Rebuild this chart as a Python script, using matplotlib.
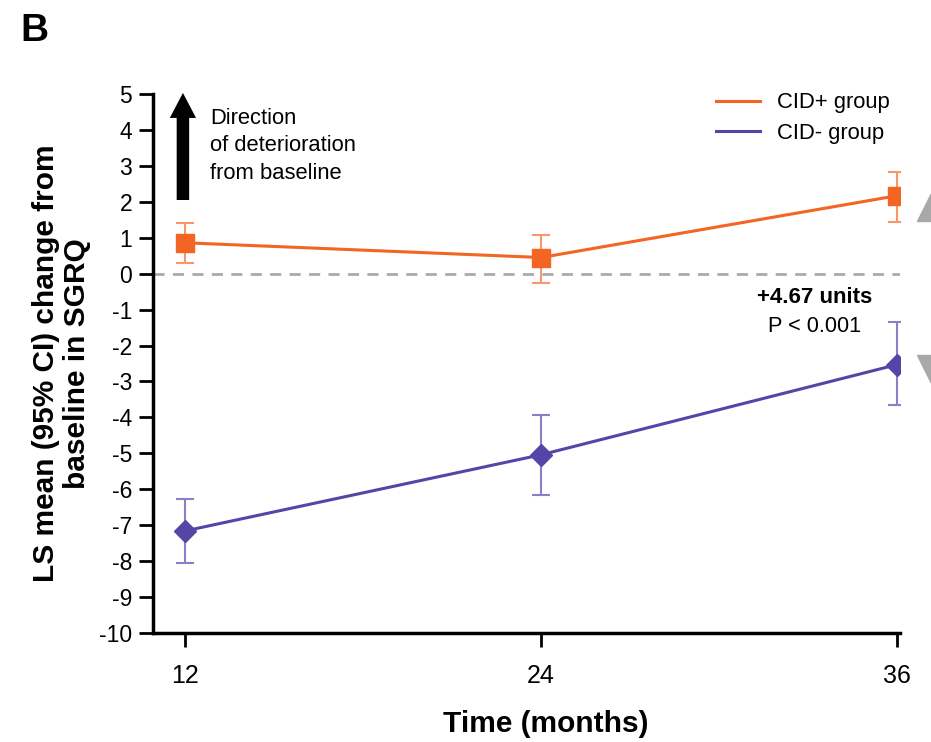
import numpy as np
import matplotlib
matplotlib.use("Agg")
import matplotlib.pyplot as plt

plt.rcParams['font.family'] = ['Liberation Sans', 'DejaVu Sans']
plt.rcParams['axes.unicode_minus'] = False

# data
months = [12, 24, 36]
cid_pos = [0.86, 0.45, 2.17]
cid_pos_lo = [0.31, -0.25, 1.45]
cid_pos_hi = [1.42, 1.09, 2.84]
cid_neg = [-7.16, -5.04, -2.53]
cid_neg_lo = [-8.05, -6.16, -3.65]
cid_neg_hi = [-6.27, -3.93, -1.34]
yticks = list(range(-10, 6))

ORANGE = '#F26522'
ORANGE_LT = '#F7976A'
PURPLE = '#5645A6'
PURPLE_LT = '#8A7FC8'

fig = plt.figure(figsize=(9.31, 7.42), dpi=100)
ax = fig.add_axes([0.1643, 0.1469, 0.8025, 0.7264])

ax.axhline(0, color='#AAAAAA', lw=2, ls=(0, (4, 3)), zorder=1)

for y, lo, hi, c, clt, mk, ms, lab in [
        (cid_pos, cid_pos_lo, cid_pos_hi, ORANGE, ORANGE_LT, 's', 12.5, 'CID+ group'),
        (cid_neg, cid_neg_lo, cid_neg_hi, PURPLE, PURPLE_LT, 'D', 11.5, 'CID- group')]:
    y = np.array(y)
    err = [y - np.array(lo), np.array(hi) - y]
    ax.errorbar(months, y, yerr=err, fmt='none', ecolor=clt, elinewidth=1.5,
                capsize=6.5, capthick=1.5, zorder=2)
    ax.plot(months, y, color=c, lw=2.2, zorder=3, label=lab)
    ax.plot(months, y, ls='none', marker=mk, ms=ms, color=c, zorder=4)

ax.set_xlim(10.92, 36.1)
ax.set_ylim(-10, 5)
ax.set_xticks(months)
ax.set_yticks(yticks)
ax.spines['top'].set_visible(False)
ax.spines['right'].set_visible(False)
for s in ['left', 'bottom']:
    ax.spines[s].set_linewidth(2.5)
ax.tick_params(axis='y', direction='out', length=10, width=2, labelsize=16.5, pad=5)
ax.tick_params(axis='x', direction='out', length=10, width=2, labelsize=18, pad=12)

ax.set_ylabel('LS mean (95% CI) change from\nbaseline in SGRQ', fontsize=21.5,
              fontweight='bold', labelpad=6, linespacing=1.1)
ax.set_xlabel('Time (months)', fontsize=21.5, fontweight='bold')
ax.xaxis.set_label_coords(0.526, -0.142)

# direction arrow
ax.annotate('', xy=(11.93, 5.03), xytext=(11.93, 2.05), annotation_clip=False,
            arrowprops=dict(arrowstyle='simple,head_length=1.0,head_width=1.05,tail_width=0.5',
                            color='black', lw=0, mutation_scale=18,
                            shrinkA=0, shrinkB=0))
ax.text(12.84, 4.6, 'Direction\nof deterioration\nfrom baseline', fontsize=15.8,
        va='top', ha='left', linespacing=1.38)

ax.text(33.23, -0.67, '+4.67 units', fontsize=16, fontweight='bold', ha='center', va='center')
ax.text(33.23, -1.47, 'P < 0.001', fontsize=15.7, ha='center', va='center')

# grey pointers cut by the right border
ax.plot([37.15], [1.85], marker='^', ms=20, color='#A8A8A8', clip_on=False, ls='none')
ax.plot([37.15], [-2.65], marker='v', ms=20, color='#A8A8A8', clip_on=False, ls='none')

leg = ax.legend(loc='upper right', bbox_to_anchor=(1.013, 1.04), frameon=False, fontsize=15.8,
                handlelength=2.0, handletextpad=0.8, labelspacing=0.45)

fig.text(0.022, 0.958, 'B', fontsize=28, fontweight='bold', va='center', ha='left')

fig.savefig('out.png', dpi=100)
